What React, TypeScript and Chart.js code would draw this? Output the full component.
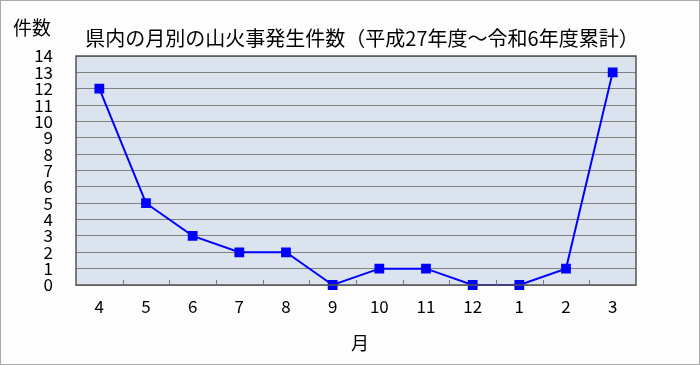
import React, { useEffect, useRef } from "react";
import { Chart, registerables } from "chart.js";

Chart.register(...registerables);

const months = ["4", "5", "6", "7", "8", "9", "10", "11", "12", "1", "2", "3"];
const fireCounts = [12, 5, 3, 2, 2, 0, 1, 1, 0, 0, 1, 13];
const yTicks = [0, 1, 2, 3, 4, 5, 6, 7, 8, 9, 10, 11, 12, 13, 14];

const chartTitle = "県内の月別の山火事発生件数（平成27年度～令和6年度累計）";
const yTitle = "件数";
const xTitle = "月";

const FONT = "'Noto Sans CJK JP', 'Noto Sans', sans-serif";

const decorPlugin = {
  id: "decor",
  beforeDraw(chart: any) {
    const { ctx, chartArea } = chart;
    ctx.save();
    ctx.fillStyle = "#dbe3ee";
    ctx.fillRect(chartArea.left, chartArea.top, chartArea.right - chartArea.left, chartArea.bottom - chartArea.top);
    ctx.restore();
  },
  afterDatasetsDraw(chart: any) {
    const { ctx, chartArea } = chart;
    const x = chart.scales.x;
    ctx.save();
    // plot frame
    ctx.strokeStyle = "#555555";
    ctx.lineWidth = 1.5;
    ctx.strokeRect(chartArea.left, chartArea.top, chartArea.right - chartArea.left, chartArea.bottom - chartArea.top);
    // short category separators along the bottom
    ctx.strokeStyle = "#777777";
    ctx.lineWidth = 1;
    for (let i = 0; i < months.length - 1; i++) {
      const px = Math.round((x.getPixelForTick(i) + x.getPixelForTick(i + 1)) / 2) + 0.5;
      ctx.beginPath();
      ctx.moveTo(px, chartArea.bottom);
      ctx.lineTo(px, chartArea.bottom - 5);
      ctx.stroke();
    }
    ctx.restore();
  },
  afterDraw(chart: any) {
    const { ctx } = chart;
    ctx.save();
    ctx.fillStyle = "#000000";
    ctx.textAlign = "center";
    ctx.textBaseline = "middle";
    ctx.font = `20px ${FONT}`;
    ctx.fillText(chartTitle, 361, 37);
    ctx.font = `19px ${FONT}`;
    ctx.fillText(yTitle, 31, 27);
    ctx.font = `18px ${FONT}`;
    ctx.fillText(xTitle, 359, 342);
    ctx.restore();
  },
};

export default function App() {
  const canvasRef = useRef<HTMLCanvasElement | null>(null);

  useEffect(() => {
    document.body.style.margin = "0";
    const canvas = canvasRef.current;
    if (!canvas) return;
    const chart = new Chart(canvas, {
      type: "line",
      data: {
        labels: months,
        datasets: [
          {
            data: fireCounts,
            borderColor: "#0000ff",
            backgroundColor: "#0000ff",
            borderWidth: 2,
            pointStyle: "rect",
            pointRadius: 5.5,
            pointHoverRadius: 5.5,
            tension: 0,
            clip: false as any,
          },
        ],
      },
      options: {
        animation: false,
        responsive: false,
        devicePixelRatio: 1,
        layout: { padding: { left: 0, right: 63, top: 55, bottom: 0 } },
        plugins: {
          legend: { display: false },
          title: { display: false },
          tooltip: { enabled: false },
        },
        scales: {
          x: {
            offset: true,
            grid: { display: false, drawTicks: false },
            border: { display: false },
            ticks: {
              color: "#000000",
              font: { family: FONT, size: 17 },
              padding: 11,
              maxRotation: 0,
              autoSkip: false,
            },
            afterFit(scale: any) {
              scale.height = 79;
            },
          },
          y: {
            min: 0,
            max: 14,
            afterBuildTicks(scale: any) {
              scale.ticks = yTicks.map((v) => ({ value: v }));
            },
            grid: { color: "#808080", lineWidth: 1, drawTicks: false },
            border: { display: false },
            ticks: {
              color: "#000000",
              font: { family: FONT, size: 17, lineHeight: 1 },
              padding: 23,
              autoSkip: false,
            },
            afterFit(scale: any) {
              scale.width = 75;
            },
          },
        },
      },
      plugins: [decorPlugin],
    });
    return () => chart.destroy();
  }, []);

  return (
    <div
      style={{
        width: 700,
        height: 365,
        boxSizing: "border-box",
        border: "1px solid #aaaaaa",
        background: "#fdfdfd",
        position: "relative",
        overflow: "hidden",
      }}
    >
      <canvas ref={canvasRef} width={698} height={363} style={{ display: "block" }} />
    </div>
  );
}
